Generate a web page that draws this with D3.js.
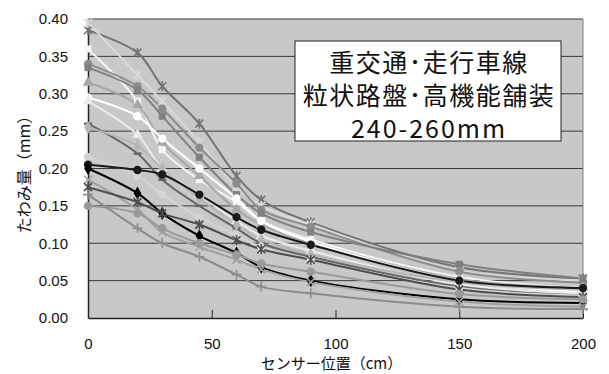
<!DOCTYPE html>
<html>
<head>
<meta charset="utf-8">
<script src="https://cdn.jsdelivr.net/npm/d3@7"></script>
<style>
  body { margin: 0; background: #fff; }
  text { font-family: "Liberation Sans", Arial, sans-serif; }
  .jp { font-family: "Noto Sans CJK JP", sans-serif; }
</style>
</head>
<body>
<svg id="chart" width="609" height="374"></svg>
<script>
// sensor positions (cm)
const sensorPos = [0, 20, 30, 45, 60, 70, 90, 150, 200];
const yTicks = [0, 0.05, 0.10, 0.15, 0.20, 0.25, 0.30, 0.35, 0.40];
const xTicks = [0, 50, 100, 150, 200];
const titleLines = ["重交通･走行車線", "粒状路盤･高機能舗装", "240-260mm"];

// deflection (mm) per point
const s01 = [0.385, 0.355, 0.31, 0.26, 0.19, 0.158, 0.128, 0.068, 0.053];
const s02 = [0.395, 0.325, 0.29, 0.235, 0.175, 0.15, 0.125, 0.063, 0.05];
const s03 = [0.36, 0.29, 0.225, 0.185, 0.155, 0.13, 0.105, 0.055, 0.04];
const s04 = [0.34, 0.31, 0.28, 0.228, 0.18, 0.145, 0.122, 0.062, 0.047];
const s05 = [0.335, 0.305, 0.27, 0.215, 0.165, 0.14, 0.115, 0.072, 0.053];
const s06 = [0.315, 0.285, 0.235, 0.19, 0.145, 0.125, 0.1, 0.052, 0.04];
const s07 = [0.295, 0.27, 0.24, 0.2, 0.16, 0.13, 0.102, 0.05, 0.035];
const s08 = [0.29, 0.245, 0.2, 0.165, 0.13, 0.11, 0.09, 0.045, 0.033];
const s09 = [0.26, 0.22, 0.185, 0.15, 0.12, 0.1, 0.082, 0.042, 0.03];
const s10 = [0.255, 0.23, 0.2, 0.16, 0.125, 0.105, 0.085, 0.048, 0.038];
const s11 = [0.215, 0.19, 0.165, 0.135, 0.11, 0.095, 0.078, 0.04, 0.03];
const s12 = [0.205, 0.198, 0.192, 0.165, 0.135, 0.118, 0.098, 0.05, 0.04];
const s13 = [0.2, 0.167, 0.14, 0.11, 0.087, 0.068, 0.05, 0.025, 0.02];
const s14 = [0.185, 0.145, 0.115, 0.095, 0.078, 0.065, 0.048, 0.022, 0.015];
const s15 = [0.175, 0.155, 0.14, 0.125, 0.104, 0.092, 0.078, 0.038, 0.028];
const s16 = [0.15, 0.14, 0.12, 0.1, 0.085, 0.073, 0.062, 0.032, 0.025];
const s17 = [0.165, 0.12, 0.1, 0.082, 0.058, 0.042, 0.033, 0.015, 0.012];

const seriesList = [
  {v: s01, color: "#737373", mark: "star"},
  {v: s02, color: "#dadada", mark: "star"},
  {v: s03, color: "#f5f5f5", mark: "square"},
  {v: s04, color: "#8c8c8c", mark: "circle"},
  {v: s05, color: "#808080", mark: "square"},
  {v: s06, color: "#a6a6a6", mark: "triangle"},
  {v: s07, color: "#ffffff", mark: "circle"},
  {v: s08, color: "#ebebeb", mark: "triangle"},
  {v: s09, color: "#666666", mark: "dash"},
  {v: s10, color: "#b5b5b5", mark: "diamond"},
  {v: s11, color: "#d4d4d4", mark: "circle"},
  {v: s12, color: "#1a1a1a", mark: "circle"},
  {v: s13, color: "#000000", mark: "diamond"},
  {v: s14, color: "#a0a0a0", mark: "x"},
  {v: s15, color: "#4d4d4d", mark: "star"},
  {v: s16, color: "#9a9a9a", mark: "circle"},
  {v: s17, color: "#8c8c8c", mark: "plus"}
];

const svg = d3.select("#chart"),
  margin = {top: 19, right: 26, bottom: 56, left: 88},
  width = +svg.attr("width") - margin.left - margin.right,
  height = +svg.attr("height") - margin.top - margin.bottom;

const x = d3.scaleLinear().domain([0, 200]).range([0, width]),
  y = d3.scaleLinear().domain([0, 0.40]).range([height, 0]);

const g = svg.append("g")
  .attr("transform", "translate(" + margin.left + "," + margin.top + ")");

g.append("rect")
  .attr("width", width).attr("height", height)
  .attr("fill", "#c8c8c8");

// gridlines
g.append("g")
  .selectAll("line")
  .data(yTicks.filter(d => d > 0))
  .enter().append("line")
  .attr("x1", 0).attr("x2", width)
  .attr("y1", d => y(d)).attr("y2", d => y(d))
  .attr("stroke", "#3a3a3a").attr("stroke-width", 1);

// right border
g.append("line")
  .attr("x1", width).attr("x2", width)
  .attr("y1", 0).attr("y2", height)
  .attr("stroke", "#808080");

// axes
const xAxis = g.append("g")
  .attr("transform", "translate(0," + height + ")")
  .call(d3.axisBottom(x).tickValues(xTicks).tickSizeInner(-8).tickSizeOuter(0).tickPadding(20).tickFormat(d3.format("d")));
const yAxis = g.append("g")
  .call(d3.axisLeft(y).tickValues(yTicks).tickSizeInner(0).tickSizeOuter(0).tickPadding(20).tickFormat(d3.format(".2f")));

[xAxis, yAxis].forEach(a => {
  a.select(".domain").attr("stroke", "#222").attr("stroke-width", 1.5);
  a.selectAll(".tick line").attr("stroke", "#222");
  a.selectAll(".tick text").attr("font-size", 15).attr("fill", "#111")
    .attr("font-family", "'Liberation Sans', Arial, sans-serif");
});
xAxis.selectAll(".tick text").attr("dy", "0.71em");

// lines
const line = d3.line()
  .x((d, i) => x(sensorPos[i]))
  .y(d => y(d))
  .curve(d3.curveCatmullRom.alpha(0.5));

const sym = {
  square: d3.symbolSquare, circle: d3.symbolCircle,
  triangle: d3.symbolTriangle, diamond: d3.symbolDiamond
};

const plot = g.append("g");
seriesList.forEach(s => {
  plot.append("path")
    .datum(s.v)
    .attr("fill", "none")
    .attr("stroke", s.color)
    .attr("stroke-width", 2)
    .attr("d", line);
});
seriesList.forEach(s => {
  const pts = plot.append("g")
    .selectAll("path")
    .data(s.v)
    .enter().append("path")
    .attr("transform", (d, i) => "translate(" + x(sensorPos[i]) + "," + y(d) + ")");
  if (s.mark == "dash") {
    pts.attr("d", "M-4,-1.2H4V1.2H-4Z").attr("fill", s.color);
  } else if (s.mark == "star" || s.mark == "x" || s.mark == "plus") {
    pts.attr("fill", "none").attr("stroke", s.color).attr("stroke-width", 1.6);
    if (s.mark == "plus") pts.attr("d", "M-5,0H5M0,-5V5");
    else if (s.mark == "x") pts.attr("d", "M-4,-4L4,4M-4,4L4,-4");
    else pts.attr("d", "M-4,-4L4,4M-4,4L4,-4M0,-5V5");
  } else {
    pts.attr("d", d3.symbol().type(sym[s.mark]).size(s.mark == "circle" ? 55 : 50)())
      .attr("fill", s.color);
  }
});

// axis titles
svg.append("text")
  .attr("class", "jp")
  .attr("x", margin.left + width / 2 - 4).attr("y", 369)
  .attr("text-anchor", "middle")
  .attr("font-size", 15).attr("fill", "#111")
  .text("センサー位置（cm）");

svg.append("text")
  .attr("class", "jp")
  .attr("transform", "translate(30," + (margin.top + height / 2 + 2) + ") rotate(-90)")
  .attr("text-anchor", "middle")
  .attr("font-size", 16).attr("fill", "#111")
  .text("たわみ量（mm）");

// annotation box
const box = svg.append("g").attr("transform", "translate(295,41)");
box.append("rect")
  .attr("width", 266).attr("height", 100)
  .attr("fill", "#fff").attr("stroke", "#222").attr("stroke-width", 1);
box.selectAll("text")
  .data(titleLines)
  .enter().append("text")
  .attr("class", "jp")
  .attr("x", 134)
  .attr("y", (d, i) => 31 + i * 33)
  .attr("text-anchor", "middle")
  .attr("font-size", 25).attr("fill", "#111")
  .attr("letter-spacing", (d, i) => i == 2 ? 2 : 1.5)
  .text(d => d);
</script>
</body>
</html>
